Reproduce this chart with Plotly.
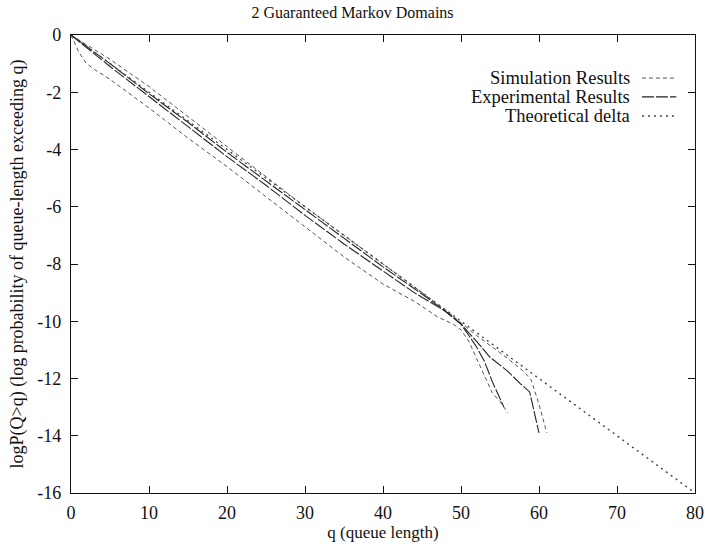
import plotly.graph_objects as go

# ---------------- data ----------------
title_text = "2 Guaranteed Markov Domains"
x_title = "q (queue length)"
y_title = "logP(Q>q) (log probability of queue-length exceeding q)"

x_tickvals = [0, 10, 20, 30, 40, 50, 60, 70, 80]
x_ticktext = ["0", "10", "20", "30", "40", "50", "60", "70", "80"]
y_tickvals = [0, -2, -4, -6, -8, -10, -12, -14, -16]
y_ticktext = ["0", "-2", "-4", "-6", "-8", "-10", "-12", "-14", "-16"]

# Simulation results (two runs)
sim1_q = [0, 1, 2, 3, 5, 10, 15, 20, 25, 30, 35, 40, 44, 47, 49, 50, 51, 52, 53, 54, 55, 56]
sim1_y = [0, -0.6, -1.0, -1.2, -1.55, -2.55, -3.6, -4.6, -5.65, -6.7, -7.75, -8.7, -9.3,
          -9.85, -10.1, -10.3, -10.7, -11.3, -11.9, -12.5, -12.8, -13.2]
sim2_q = [0, 5, 10, 15, 20, 25, 30, 35, 40, 45, 48, 50, 52, 54, 56, 58, 59, 60, 61]
sim2_y = [0, -0.85, -1.8, -2.85, -3.9, -4.95, -6.0, -7.0, -8.0, -9.0, -9.6, -10.05,
          -10.5, -10.9, -11.3, -11.75, -12.05, -12.9, -13.9]

# Experimental results (two runs)
exp1_q = [0, 5, 10, 15, 20, 25, 30, 35, 40, 44, 48, 50, 51, 52, 53, 54, 55, 55.5]
exp1_y = [0, -1.1, -2.15, -3.2, -4.25, -5.25, -6.3, -7.3, -8.25, -9.0, -9.65, -10.1,
          -10.5, -10.9, -11.4, -12.1, -12.7, -13.0]
exp2_q = [0, 5, 10, 15, 20, 25, 30, 35, 40, 45, 48, 50, 52, 53.7, 56, 57.6, 58.8, 60]
exp2_y = [0, -1.0, -2.05, -3.05, -4.1, -5.1, -6.1, -7.1, -8.1, -9.05, -9.65, -10.1,
          -10.7, -11.25, -11.75, -12.18, -12.47, -13.9]

# Theoretical delta
theo_q = [0, 80]
theo_y = [0, -16]

legend_labels = ["Simulation Results", "Experimental Results", "Theoretical delta"]

# ---------------- styles ----------------
FONT = "Liberation Serif, Times New Roman, serif"
SIM_STYLE = dict(color="#555555", width=1, dash="4px,3px")
EXP_STYLE = dict(color="#222222", width=1.1, dash="12px,2px")
THEO_STYLE = dict(color="#444444", width=1.4, dash="2px,4px")

fig = go.Figure()
for q, y in [(sim1_q, sim1_y), (sim2_q, sim2_y)]:
    fig.add_trace(go.Scatter(x=q, y=y, mode="lines", line=SIM_STYLE, showlegend=False))
for q, y in [(exp1_q, exp1_y), (exp2_q, exp2_y)]:
    fig.add_trace(go.Scatter(x=q, y=y, mode="lines", line=EXP_STYLE, showlegend=False))
fig.add_trace(go.Scatter(x=theo_q, y=theo_y, mode="lines", line=THEO_STYLE, showlegend=False))

# gnuplot-style key: text right-aligned, sample to its right
key_rows = [0.906, 0.865, 0.823]
styles = [SIM_STYLE, EXP_STYLE, THEO_STYLE]
for label, ky, st in zip(legend_labels, key_rows, styles):
    fig.add_annotation(xref="paper", yref="paper", x=0.899, y=ky, text=label,
                       showarrow=False, xanchor="right", yanchor="middle",
                       font=dict(family=FONT, size=18.5, color="#111"))
    fig.add_shape(type="line", xref="paper", yref="paper", x0=0.915, x1=0.970,
                  y0=ky, y1=ky, line=st)

axis_common = dict(
    showline=True, linecolor="#111", linewidth=1.2, mirror="allticks",
    ticks="inside", ticklen=7, tickcolor="#111", tickwidth=1,
    showgrid=False, zeroline=False, automargin=False,
    tickfont=dict(family=FONT, size=18, color="#111"),
)

fig.update_layout(
    width=705, height=544,
    margin=dict(l=71, r=10, t=35, b=51),
    paper_bgcolor="white", plot_bgcolor="white",
    title=dict(text=title_text, x=0.5, xanchor="center", y=0.977, yanchor="middle",
               font=dict(family=FONT, size=16, color="#111")),
    xaxis=dict(range=[0, 80], tickvals=x_tickvals, ticktext=x_ticktext,
               title=dict(text=x_title, font=dict(family=FONT, size=17, color="#111"), standoff=0),
               ticklabelstandoff=3, **axis_common),
    yaxis=dict(range=[-16, 0], tickvals=y_tickvals, ticktext=y_ticktext,
               title=dict(text=y_title, font=dict(family=FONT, size=18, color="#111"), standoff=8),
               ticklabelstandoff=5, **axis_common),
)

fig.write_html("out.html", config={"displayModeBar": False},
               post_script="document.body.style.margin='0';")
